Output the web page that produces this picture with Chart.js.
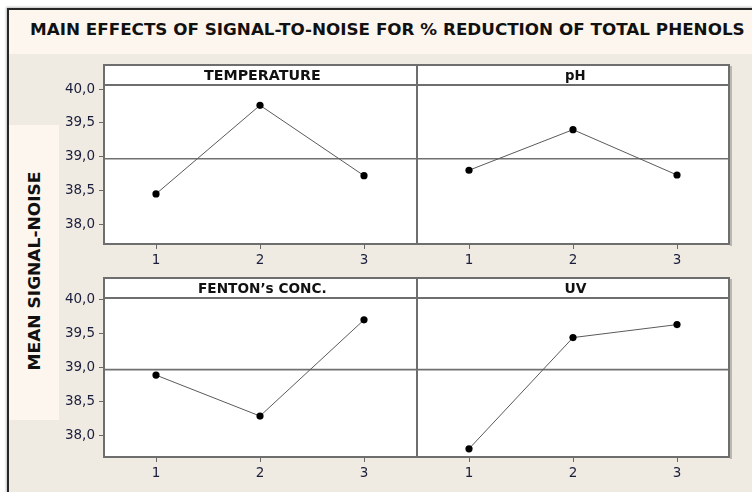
<!DOCTYPE html>
<html>
<head>
<meta charset="utf-8">
<script src="https://cdn.jsdelivr.net/npm/chart.js@4.4.1/dist/chart.umd.min.js"></script>
<style>
  html,body{margin:0;padding:0;background:#ffffff;}
  body{width:752px;height:492px;position:relative;overflow:hidden;font-family:"DejaVu Sans",sans-serif;}
  .abs{position:absolute;}
  #frame{left:7px;top:8px;width:760px;height:500px;background:#efebe2;border-left:2px solid #262626;border-top:2px solid #262626;box-shadow:-1px -1px 2px rgba(0,0,0,0.25);}
  #titleband{left:9px;top:10px;width:743px;height:44px;background:#fdf6ef;}
  #ylabband{left:9px;top:125px;width:50px;height:295px;background:#fdf6ef;}
  .txt{white-space:nowrap;font-weight:bold;color:#111;display:inline-block;transform-origin:center center;}
  .panel{background:#ffffff;}
  .ln{background:#6e6e6e;}
  canvas{position:absolute;}
</style>
</head>
<body>
<div id="frame" class="abs"></div>
<div id="titleband" class="abs"></div>
<div id="ylabband" class="abs"></div>
<div id="layer"></div>
<script>
// ---- data ----
const levels = [1, 2, 3];
const temperature = [38.45, 39.76, 38.72];
const pH = [38.80, 39.40, 38.73];
const fentonConc = [38.89, 38.29, 39.70];
const uv = [37.81, 39.44, 39.63];
const meanSN = 38.97;
const yTicks = [38.0, 38.5, 39.0, 39.5, 40.0];
const xTicks = [1, 2, 3];
const panelTitles = ['TEMPERATURE', 'pH', 'FENTON\u2019s CONC.', 'UV'];
const chartTitle = 'MAIN EFFECTS OF SIGNAL-TO-NOISE FOR % REDUCTION OF TOTAL PHENOLS';
const yAxisTitle = 'MEAN SIGNAL-NOISE';

// ---- layout ----
const layer = document.getElementById('layer');
function box(cls, l, t, w, h) {
  const d = document.createElement('div');
  d.className = 'abs ' + cls;
  d.style.left = l + 'px'; d.style.top = t + 'px';
  d.style.width = w + 'px'; d.style.height = h + 'px';
  layer.appendChild(d);
  return d;
}
function text(str, cx, cy, size, targetW, rotate) {
  const wrap = document.createElement('div');
  wrap.className = 'abs';
  wrap.style.left = cx + 'px'; wrap.style.top = cy + 'px';
  wrap.style.width = '0px'; wrap.style.height = '0px';
  const s = document.createElement('span');
  s.className = 'txt';
  s.textContent = str;
  s.style.fontSize = size + 'px';
  s.style.position = 'absolute';
  s.style.lineHeight = '1';
  layer.appendChild(wrap);
  wrap.appendChild(s);
  const w = s.offsetWidth, h = s.offsetHeight;
  s.style.left = (-w / 2) + 'px';
  s.style.top = (-h / 2) + 'px';
  const sx = targetW ? targetW / w : 1;
  s.style.transform = (rotate ? 'rotate(-90deg) ' : '') + 'scaleX(' + sx + ')';
  return s;
}

const cols = [{l:104, r:416}, {l:417, r:729}];
const rows = [
  {hTop:65, hBot:85, bot:244, min:37.71, max:40.06},
  {hTop:278, hBot:298, bot:457, min:37.69, max:40.02}
];
const series = [temperature, pH, fentonConc, uv];
const titleW = [117, 21, 129, 22];

// white panel backgrounds + lines
rows.forEach(rw => {
  box('panel', 104, rw.hTop, 625, rw.bot - rw.hTop);
  const sh = box('', 730, rw.hTop + 1, 2, rw.bot - rw.hTop + 1); sh.style.background = 'rgba(0,0,0,0.22)';
  box('ln', 103, rw.hTop - 1, 627, 2);
  box('ln', 103, rw.hBot - 1, 627, 2);
  box('ln', 103, rw.bot - 1, 627, 2);
  box('ln', 103, rw.hTop - 1, 2, rw.bot - rw.hTop + 2);
  box('ln', 415.5, rw.hTop - 1, 2, rw.bot - rw.hTop + 2);
  box('ln', 728, rw.hTop - 1, 2, rw.bot - rw.hTop + 2);
});

const fmt = v => v.toFixed(1).replace('.', ',');
const tickFont = {family: 'DejaVu Sans', size: 13.5};
const tickColor = '#1b1d3c';

series.forEach((vals, i) => {
  const rw = rows[Math.floor(i / 2)];
  const cl = cols[i % 2];
  const showY = (i % 2) === 0;
  const yW = showY ? 44 : 0;
  const xH = 30;
  const padTop = 12;
  const plotW = cl.r - cl.l, plotH = rw.bot - rw.hBot;
  const cv = document.createElement('canvas');
  cv.width = plotW + yW; cv.height = plotH + xH + padTop;
  cv.style.left = (cl.l - yW) + 'px';
  cv.style.top = (rw.hBot - padTop) + 'px';
  cv.style.width = cv.width + 'px'; cv.style.height = cv.height + 'px';
  layer.appendChild(cv);
  new Chart(cv, {
    type: 'line',
    data: {
      datasets: [
        {
          data: levels.map((x, k) => ({x: x, y: vals[k]})),
          borderColor: '#5a5a5a', borderWidth: 1,
          pointRadius: 3.6, pointBackgroundColor: '#000', pointBorderColor: '#000', pointBorderWidth: 0,
          tension: 0, order: 0
        },
        {
          data: [{x: 0.5, y: meanSN}, {x: 3.5, y: meanSN}],
          borderColor: '#707070', borderWidth: 1.6, pointRadius: 0, order: 1
        }
      ]
    },
    options: {
      responsive: false, animation: false, events: [],
      layout: {padding: {top: padTop, left: 0, right: 0, bottom: 0}, autoPadding: false},
      plugins: {legend: {display: false}, tooltip: {enabled: false}},
      scales: {
        x: {
          type: 'linear', min: 0.5, max: 3.5,
          afterBuildTicks: s => { s.ticks = xTicks.map(v => ({value: v})); },
          afterFit: s => { s.height = xH; s.paddingLeft = 0; s.paddingRight = 0; },
          grid: {drawOnChartArea: false, drawTicks: true, tickLength: 5, color: '#6a6a6a', lineWidth: 1},
          border: {display: false},
          ticks: {padding: 3, font: tickFont, color: tickColor, maxRotation: 0, autoSkip: false, callback: v => String(v)}
        },
        y: {
          display: showY, min: rw.min, max: rw.max,
          afterBuildTicks: s => { s.ticks = yTicks.map(v => ({value: v})); },
          afterFit: s => { s.width = yW; s.paddingTop = 0; s.paddingBottom = 0; },
          grid: {drawOnChartArea: false, drawTicks: true, tickLength: 5, color: '#6a6a6a', lineWidth: 1},
          border: {display: false},
          ticks: {padding: 4, font: tickFont, color: tickColor, autoSkip: false, callback: v => fmt(v)}
        }
      }
    }
  });
  text(panelTitles[i], (cl.l + cl.r) / 2 + 2, (rw.hTop + rw.hBot) / 2 + 0.5, 14.5, titleW[i], false);
});

text(chartTitle, 387, 31, 15.5, 715, false);
text(yAxisTitle, 35, 271, 16, 199, true);
</script>
</body>
</html>
